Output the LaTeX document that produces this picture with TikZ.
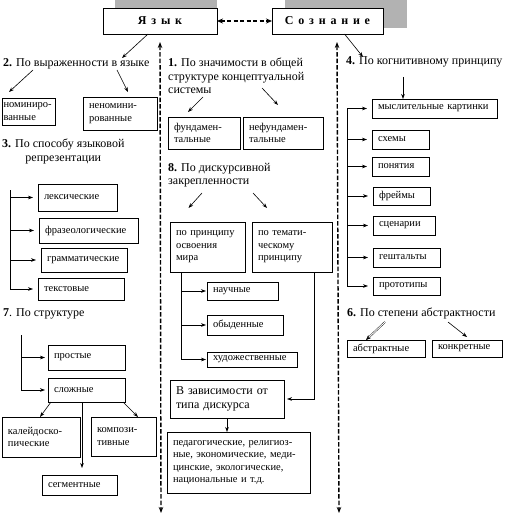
\documentclass[tikz,border=0pt]{standalone}
\usepackage{fontspec}
\setmainfont{Liberation Serif}
\usetikzlibrary{arrows.meta,calc}
\newcommand\mkbox[7][]{%
  \pgfmathsetmacro\bxw{#5-#3}%
  \pgfmathsetmacro\bxh{#6-#4}%
  \pgfmathsetmacro\bxt{#5-#3-12}%
  \node[bx,minimum width=\bxw pt,minimum height=\bxh pt,text width=\bxt pt,#1] (#2) at (#3,#4) {#7};}
\begin{document}
\begin{tikzpicture}[x=1pt,y=-1pt,
  bx/.style={draw,line width=0.8pt,anchor=north west,inner xsep=6pt,inner ysep=1pt,outer sep=0pt,align=left,font=\fontsize{10.5}{12.5}\selectfont},
  hd/.style={inner sep=0pt,anchor=north west,align=left,font=\fontsize{12}{13.5}\selectfont},
  arr/.style={line width=0.6pt,-{Stealth[length=5pt,width=3.6pt]}},
  dl/.style={line width=1.4pt,dash pattern=on 4.5pt off 2pt,{Stealth[length=6pt,width=4.5pt]}-{Stealth[length=6pt,width=4.5pt]}},
  shd/.style={fill=black!30},
  title/.style={bx,fill=white,align=center,font=\fontsize{12}{14}\selectfont\bfseries}]
\path[use as bounding box,fill=white] (0,0) rectangle (504,516);
% shadows
\fill[shd] (115,0) rectangle (217,8);
\fill[shd] (285,0) rectangle (407,28);
% titles
\mkbox[title]{yazyk}{103}{8}{217}{34}{\addfontfeature{LetterSpace=40}Язык}
\mkbox[title]{soznanie}{272}{8}{383}{34}{\addfontfeature{LetterSpace=40}Сознание}
\draw[line width=1.5pt,dash pattern=on 4pt off 2.5pt,{Stealth[length=6pt,width=5pt]}-{Stealth[length=6pt,width=5pt]}] (yazyk.east) -- (soznanie.west);
% dashed verticals
\coordinate (d1t) at (160,42); \coordinate (d1b) at (161,513);
\coordinate (d2t) at (337,42); \coordinate (d2b) at (339,513);
\draw[dl] (d1t) -- (d1b);
\draw[dl] (d2t) -- (d2b);
% headings
\node[hd] (h2) at (3,58) {\textbf{2.} По выраженности в языке};
\node[hd,align=center] (h3) at (2,139) {\textbf{3.} По способу языковой\\репрезентации};
\node[hd] (h7) at (3,308) {\textbf{7}. По структуре};
\node[hd] (h1) at (168,58) {\textbf{1.} По значимости в общей\\структуре концептуальной\\системы};
\node[hd] (h8) at (168,163) {\textbf{8.} По дискурсивной\\закрепленности};
\node[hd] (h4) at (346,56) {\textbf{4.} По когнитивному принципу};
\node[hd] (h6) at (347,308) {\textbf{6.} По степени абстрактности};
% left boxes
\mkbox[text width=50pt,inner xsep=1.5pt]{nom}{2}{98}{55}{125}{номиниро-\\ванные}
\mkbox{nenom}{83}{97}{157}{130}{неномини-\\рованные}
\mkbox{leks}{38}{184}{117}{211}{лексические}
\mkbox{fraz}{39}{218}{138}{243}{фразеологические}
\mkbox{gram}{41}{248}{127}{272}{грамматические}
\mkbox{tekst}{38}{278}{124}{300}{текстовые}
\mkbox{prost}{48}{345}{125}{370}{простые}
\mkbox{slozh}{48}{378}{125}{402}{сложные}
\mkbox{kaleid}{2}{417}{80}{457}{калейдоско-\\пические}
\mkbox{kompoz}{91}{417}{156}{456}{компози-\\тивные}
\mkbox{segm}{42}{475}{117}{495}{сегментные}
% middle boxes
\mkbox{fund}{168}{117}{240}{149}{фундамен-\\тальные}
\mkbox{nefund}{243}{117}{323}{149}{нефундамен-\\тальные}
\mkbox{osv}{170}{222}{245}{272}{по принципу\\освоения\\мира}
\mkbox{temat}{252}{222}{332}{272}{по темати-\\ческому\\принципу}
\mkbox{nauch}{207}{282}{278}{300}{научные}
\mkbox{obyd}{207}{315}{283}{335}{обыденные}
\mkbox{hud}{207}{352}{297}{367}{художественные}
\mkbox[font=\fontsize{12}{13.5}\selectfont]{vzav}{170}{380}{284}{418}{В зависимости от\\типа дискурса}
\mkbox{final}{167}{432}{310}{493}{педагогические, религиоз-\\ные, экономические, меди-\\цинские, экологические,\\национальные и т.д.}
% right boxes
\mkbox{mysl}{372}{99}{497}{118}{мыслительные картинки}
\mkbox{skhem}{372}{130}{429}{149}{схемы}
\mkbox{ponyat}{372}{157}{429}{176}{понятия}
\mkbox{freim}{373}{187}{430}{205}{фреймы}
\mkbox{scen}{373}{216}{435}{235}{сценарии}
\mkbox{gesht}{373}{248}{440}{267}{гештальты}
\mkbox{prot}{373}{277}{440}{295}{прототипы}
\mkbox{abstr}{347}{340}{425}{357}{абстрактные}
\mkbox{konkr}{432}{340}{502}{357}{конкретные}
% slanted arrows from titles
\coordinate (c2) at (122,58);
\coordinate (c4) at (363,57);
\draw[arr] ($(yazyk.south)+(-12,0)$) -- (c2);
\draw[arr] ($(soznanie.south)+(17,0)$) -- (c4);
% heading 2 arrows
\coordinate (a2a) at (33,70); \coordinate (a2b) at (117,70);
\draw[arr] (a2a) -- ($(nom.north west)+(7,-6)$);
\draw[arr] (a2b) -- ($(nenom.north)+(8,-5)$);
% heading 1 arrows
\coordinate (a1a) at (203,97); \coordinate (a1b) at (262,88);
\draw[arr] (a1a) -- ($(fund.north)+(-16,-5)$);
\draw[arr] (a1b) -- ($(nefund.north)+(-5,-12)$);
% heading 8 arrows
\coordinate (a8a) at (202,193); \coordinate (a8b) at (253,193);
\draw[arr] (a8a) -- ($(osv.north)+(-19,-14)$);
\draw[arr] (a8b) -- ($(temat.north)+(-25,-14)$);
% heading 4 arrow
\coordinate (a4) at (403,77);
\draw[arr] (a4) -- (a4 |- mysl.north);
% heading 6 arrows
\coordinate (a6a) at (385,322); \coordinate (a6b) at (448,322);
\draw[line width=0.4pt,double,double distance=0.9pt,-{Stealth[length=5pt,width=4pt]}] (a6a) -- ($(abstr.north)+(-20,0)$);
\draw[arr] (a6b) -- ($(konkr.north)+(0,-3)$);
% tree 3
\coordinate (t3) at (10,190);
\draw[arr,shorten >=5pt] (t3) |- (tekst.west);
\draw[arr,shorten >=5pt] (t3 |- leks.west) -- (leks.west);
\draw[arr,shorten >=5pt] (t3 |- fraz.west) -- (fraz.west);
\draw[arr,shorten >=5pt] (t3 |- gram.west) -- (gram.west);
% tree 7
\coordinate (t7) at (21,335);
\draw[arr,shorten >=3pt] (t7) |- (slozh.west);
\draw[arr,shorten >=3pt] (t7 |- prost.west) -- (prost.west);
\draw[arr] ($(slozh.south west)+(3,0)$) -- ($(kaleid.north east)+(-40,0)$);
\draw[arr] ($(slozh.south east)+(-2,0)$) -- ($(kompoz.north west)+(47,0)$);
\draw[arr] (slozh.south -| 82,0) -- (82,468);
% tree 8
\coordinate (t8) at (181,0);
\draw[arr,shorten >=1pt] (osv.south -| t8) |- (hud.west);
\draw[arr,shorten >=1pt] (t8 |- nauch.west) -- (nauch.west);
\draw[arr,shorten >=1pt] (t8 |- obyd.west) -- (obyd.west);
\coordinate (t9) at (314,0);
\draw[arr,shorten >=3pt] (temat.south -| t9) |- (vzav.east);
\draw[arr] (vzav.south) -- (vzav.south |- final.north);
% tree 4
\coordinate (t4) at (347,0);
\draw[arr,shorten >=5pt] (mysl.west -| t4) |- (prot.west);
\draw[arr,shorten >=5pt] (mysl.west -| t4) -- (mysl.west);
\draw[arr,shorten >=5pt] (t4 |- skhem.west) -- (skhem.west);
\draw[arr,shorten >=5pt] (t4 |- ponyat.west) -- (ponyat.west);
\draw[arr,shorten >=5pt] (t4 |- freim.west) -- (freim.west);
\draw[arr,shorten >=5pt] (t4 |- scen.west) -- (scen.west);
\draw[arr,shorten >=5pt] (t4 |- gesht.west) -- (gesht.west);
\end{tikzpicture}
\end{document}
